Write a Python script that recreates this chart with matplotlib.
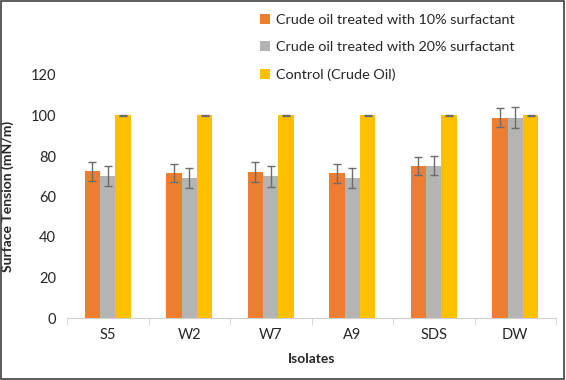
import matplotlib.pyplot as plt
import numpy as np
from matplotlib.patches import Rectangle

plt.rcParams['font.family'] = ['Lato', 'DejaVu Sans']

# data
isolates = ['S5', 'W2', 'W7', 'A9', 'SDS', 'DW']
series_names = ['Crude oil treated with 10% surfactant',
                'Crude oil treated with 20% surfactant',
                'Control (Crude Oil)']
treated_10 = [72.4, 71.6, 72.0, 71.4, 75.2, 99.0]
treated_10_err = [4.5, 4.6, 4.8, 4.6, 4.4, 4.6]
treated_20 = [70.2, 69.2, 69.9, 69.1, 75.2, 99.0]
treated_20_err = [5.0, 5.0, 5.0, 5.0, 4.6, 5.0]
control = [100, 100, 100, 100, 100, 100]
control_err = [0.2, 0.2, 0.2, 0.2, 0.2, 0.2]

colors = ['#ED7D31', '#B4B4B4', '#FFC000']

fig = plt.figure(figsize=(5.66, 3.8), dpi=100)
ax = fig.add_axes([67 / 566, 1 - 318 / 380, 489 / 566, 243 / 380])

x = np.arange(len(isolates))
w = 0.19
values = [treated_10, treated_20, control]
errors = [treated_10_err, treated_20_err, control_err]
for i, (vals, errs) in enumerate(zip(values, errors)):
    ax.bar(x + (i - 1) * w, vals, w, color=colors[i], label=series_names[i],
           yerr=errs, ecolor='#6b6b6b',
           error_kw=dict(capsize=3, elinewidth=1, capthick=1), zorder=2)

ax.set_xlim(-0.5, len(isolates) - 0.5)
ax.set_ylim(0, 120)
ax.set_yticks(range(0, 121, 20))
ax.set_xticks(x)
ax.set_xticklabels(isolates)
ax.set_xticks(np.arange(-0.5, len(isolates), 1), minor=True)
ax.tick_params(axis='x', which='major', length=0, pad=7, labelsize=10.5, colors='#262626')
ax.tick_params(axis='x', which='minor', length=5, color='#d0d0d0')
ax.tick_params(axis='y', length=0, pad=8, labelsize=10.5, colors='#262626')
for s in ['top', 'right', 'left']:
    ax.spines[s].set_visible(False)
ax.spines['bottom'].set_color('#d0d0d0')

ax.set_ylabel('Surface Tension (mN/m)', fontweight='bold', fontsize=10, color='#262626', labelpad=12)
ax.set_xlabel('Isolates', fontweight='bold', fontsize=10, color='#262626', labelpad=8)

fig.legend(loc='upper left', bbox_to_anchor=(247 / 566, 1 - 1 / 380), frameon=False,
           fontsize=10.4, handlelength=0.7, handleheight=0.7, handletextpad=0.4,
           labelspacing=1.05, labelcolor='#262626')

fig.patches.append(Rectangle((0.002, 0.003), 0.995, 0.994, transform=fig.transFigure,
                             fill=False, edgecolor='#404040', linewidth=1.2))

fig.savefig('out.png', dpi=100)
